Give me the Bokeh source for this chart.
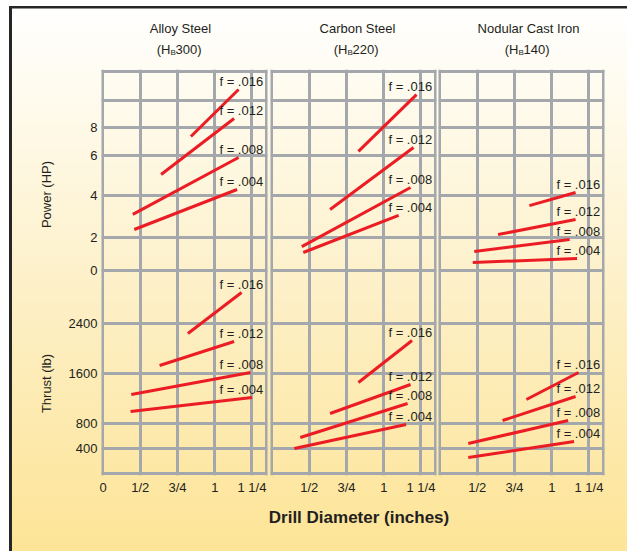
import numpy as np
from bokeh.plotting import figure
from bokeh.layouts import row, column
from bokeh.models import FixedTicker, ColumnDataSource, Range1d
from bokeh.core.properties import value
from bokeh.embed import file_html
from bokeh.resources import INLINE

# ---------------- data ----------------
MATERIALS = ["Alloy Steel", "Carbon Steel", "Nodular Cast Iron"]
HARDNESS = ["300", "220", "140"]
FEEDS = [".016", ".012", ".008", ".004"]

DIAMETER_TICKS = [0.25, 0.5, 0.75, 1.0, 1.25, 1.345]
DIAMETER_LABELS = ["0", "1/2", "3/4", "1", "1 1/4", ""]

HP_TICKS = [0, 2, 4, 6, 8, 10, 12]
HP_LABELS = ["0", "2", "4", "6", "8", "", ""]
HP_SCALE = [0, 33, 75, 115, 143, 170, 199]   # non-uniform spacing of the power grid

THRUST_TICKS = [0, 400, 800, 1600, 2400]
THRUST_LABELS = ["", "400", "800", "1600", "2400"]

# power lines [start, end] for f = .016, .012, .008, .004
alloy_power_dia = [[0.84, 1.16], [0.64, 1.13], [0.45, 1.16], [0.46, 1.15]]
alloy_power_hp = [[7.36, 10.76], [5.05, 8.67], [3.10, 5.90], [2.38, 4.30]]
carbon_power_dia = [[0.83, 1.22], [0.64, 1.20], [0.45, 1.18], [0.46, 1.10]]
carbon_power_hp = [[6.29, 10.41], [3.33, 6.57], [1.45, 4.40], [1.09, 3.05]]
iron_power_dia = [[0.85, 1.16], [0.64, 1.16], [0.48, 1.12], [0.47, 1.17]]
iron_power_hp = [[3.52, 4.15], [2.14, 2.86], [1.15, 1.88], [0.48, 0.73]]

# thrust lines [start, end]
alloy_thrust_dia = [[0.82, 1.18], [0.63, 1.13], [0.44, 1.24], [0.435, 1.25]]
alloy_thrust_lb = [[2240, 2896], [1728, 2112], [1264, 1616], [992, 1216]]
carbon_thrust_dia = [[0.83, 1.19], [0.64, 1.18], [0.44, 1.16], [0.40, 1.15]]
carbon_thrust_lb = [[1456, 2128], [960, 1424], [576, 1120], [400, 784]]
iron_thrust_dia = [[0.83, 1.18], [0.67, 1.16], [0.44, 1.11], [0.44, 1.15]]
iron_thrust_lb = [[1184, 1616], [848, 1232], [480, 848], [256, 512]]

POWER_DIA = [alloy_power_dia, carbon_power_dia, iron_power_dia]
POWER_HP = [alloy_power_hp, carbon_power_hp, iron_power_hp]
THRUST_DIA = [alloy_thrust_dia, carbon_thrust_dia, iron_thrust_dia]
THRUST_LB = [alloy_thrust_lb, carbon_thrust_lb, iron_thrust_lb]

# ---------------- style / layout ----------------
FONT = "Liberation Sans"
TXT = "#231f20"
GRID = "#a4a7ab"
RED = "#ec1c24"
W, H = 627, 551
HEAD_H, STRIP_W, FOOT_H = 69, 60, 51
FRAME_W = 166
FRAME_H = 406
BOTTOM = 25
X_RANGE = (0.24, 0.24 + FRAME_W / 149.0)
THRUST_RANGE = (-32, -32 + FRAME_H * 16)
POWER_RANGE = (-205, -205 + FRAME_H)
BORDER_L = [41, 0, 0]
BORDER_R = [3, 2, 23]
TITLE_X = [180, 357, 528]
FLABEL_X = 1.325

BACKGROUND = ", ".join([
    "linear-gradient(#262626, #262626) 9px 6px / 3px 100% no-repeat",
    "linear-gradient(#262626, #262626) 9px 6px / 100% 2.5px no-repeat",
    "linear-gradient(#ffffff, #ffffff) 0px 0px / 9px 100% no-repeat",
    "linear-gradient(to bottom, #ffffff 0px, #ffffff 7px, #fef7e0 30%, #fdeec0 60%, #fde496 100%)",
])


def hp_scale(v):
    return np.interp(v, HP_TICKS, HP_SCALE)


def power_to_primary(v):
    t0, t1 = THRUST_RANGE
    p0, p1 = POWER_RANGE
    return t0 + (np.asarray(v, dtype=float) - p0) / (p1 - p0) * (t1 - t0)


def bare(p, grids=True):
    p.toolbar_location = None
    p.outline_line_color = None
    p.background_fill_color = None
    p.border_fill_color = None
    if not grids:
        p.xgrid.visible = False
        p.ygrid.visible = False


def style_axis(ax):
    ax.axis_line_color = None
    ax.major_tick_out = 0
    ax.major_tick_in = 0
    ax.minor_tick_out = 0
    ax.minor_tick_in = 0
    ax.major_label_standoff = 4
    ax.major_label_text_font = FONT
    ax.major_label_text_font_size = "13px"
    ax.major_label_text_color = TXT


def add_lines(p, xs, ys, range_name="default"):
    p.multi_line(xs=xs, ys=ys, line_color=RED, line_width=3, y_range_name=range_name)
    src = ColumnDataSource(dict(x=[FLABEL_X] * len(FEEDS), y=[y[1] for y in ys],
                                t=["f = " + f for f in FEEDS]))
    p.text(x="x", y="y", text="t", source=src, text_font=value(FONT),
           text_font_size="13px", text_color=TXT, text_align="right",
           text_baseline="middle", y_offset=-8, y_range_name=range_name)


def text_kw(size="13px", align="center", **kw):
    d = dict(text_font=value(FONT), text_font_size=size, text_color=TXT,
             text_align=align, text_baseline="middle")
    d.update(kw)
    return d


# ---------- header: material names and hardness ----------
header = figure(output_backend="svg", toolbar_location=None, width=W, height=HEAD_H,
                x_range=Range1d(0, W), y_range=Range1d(0, HEAD_H),
                x_axis_location=None, y_axis_location=None, min_border=0)
bare(header, grids=False)
header.text(x=TITLE_X, y=[HEAD_H - 28] * 3, text=MATERIALS, **text_kw())
header.text(x=TITLE_X, y=[HEAD_H - 49] * 3, text=["(H"] * 3, x_offset=-10, **text_kw(align="right"))
header.text(x=TITLE_X, y=[HEAD_H - 49] * 3, text=["B"] * 3, x_offset=-10, y_offset=3,
            **text_kw(size="8px", align="left"))
header.text(x=TITLE_X, y=[HEAD_H - 49] * 3, text=[h + ")" for h in HARDNESS], x_offset=-5,
            **text_kw(align="left"))

# ---------- main panels: power (top) + thrust (bottom) ----------
power_grid_ticks = [float(t) for t in power_to_primary(HP_SCALE)]
y_ticks = [float(t) for t in THRUST_TICKS] + power_grid_ticks
y_labels = dict(zip([float(t) for t in THRUST_TICKS], THRUST_LABELS))
y_labels.update(dict(zip(power_grid_ticks, HP_LABELS)))

mains = []
for i in range(3):
    p = figure(output_backend="svg", toolbar_location=None,
               frame_width=FRAME_W, frame_height=FRAME_H,
               x_range=Range1d(*X_RANGE), y_range=Range1d(*THRUST_RANGE),
               x_axis_location="below", y_axis_location="left" if i == 0 else None,
               min_border_left=BORDER_L[i], min_border_right=BORDER_R[i],
               min_border_top=0, min_border_bottom=BOTTOM)
    p.extra_y_ranges = {"power": Range1d(*POWER_RANGE)}
    bare(p)
    for g in p.xgrid + p.ygrid:
        g.grid_line_color = GRID
        g.grid_line_width = 3
    p.xgrid.ticker = FixedTicker(ticks=DIAMETER_TICKS)
    p.ygrid.ticker = FixedTicker(ticks=y_ticks)

    add_lines(p, POWER_DIA[i], [list(hp_scale(v)) for v in POWER_HP[i]], "power")
    add_lines(p, THRUST_DIA[i], THRUST_LB[i])

    xa = p.xaxis[0]
    xa.ticker = FixedTicker(ticks=DIAMETER_TICKS)
    labels = list(DIAMETER_LABELS) if i == 0 else [""] + DIAMETER_LABELS[1:]
    xa.major_label_overrides = {float(t): l for t, l in zip(DIAMETER_TICKS, labels)}
    style_axis(xa)
    if i == 0:
        ya = p.yaxis[0]
        ya.ticker = FixedTicker(ticks=y_ticks)
        ya.major_label_overrides = y_labels
        style_axis(ya)
        ya.major_label_text_baseline = "alphabetic"
    mains.append(p)

# ---------- left strip with the two quantity names ----------
strip = figure(output_backend="svg", toolbar_location=None,
               frame_width=STRIP_W, frame_height=FRAME_H,
               x_range=Range1d(0, STRIP_W), y_range=Range1d(0, FRAME_H),
               x_axis_location=None, y_axis_location=None,
               min_border_left=0, min_border_right=0, min_border_top=0,
               min_border_bottom=BOTTOM)
bare(strip, grids=False)
frame_bottom = HEAD_H + FRAME_H
strip.text(x=[45.5, 45.5], y=[frame_bottom - 194, frame_bottom - 383],
           text=["Power (HP)", "Thrust (lb)"], angle=np.pi / 2, **text_kw())

# ---------- footer with the x axis name ----------
footer = figure(output_backend="svg", toolbar_location=None, width=W, height=FOOT_H,
                x_range=Range1d(0, W), y_range=Range1d(0, FOOT_H),
                x_axis_location=None, y_axis_location=None, min_border=0)
bare(footer, grids=False)
footer.text(x=[358.5], y=[H - 517], text=["Drill Diameter (inches)"],
            **text_kw(size="17px", text_font_style="bold"))

layout = column(header, row(strip, *mains, spacing=0), footer, spacing=0,
                styles={"background": BACKGROUND})

open("out.html", "w").write(file_html(layout, INLINE))
